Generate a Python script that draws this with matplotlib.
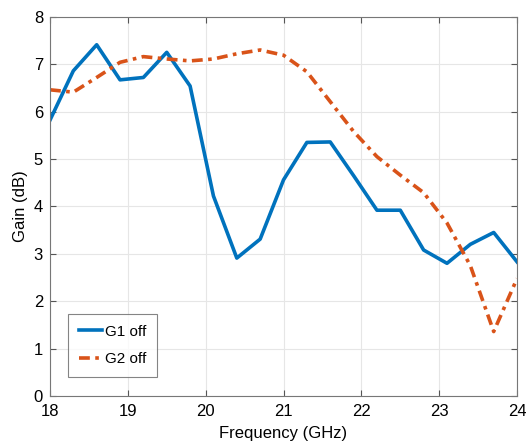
import matplotlib
matplotlib.use("Agg")
import matplotlib.pyplot as plt

plt.rcParams['font.family'] = ['Liberation Sans', 'DejaVu Sans']

freq = [18.0, 18.3, 18.6, 18.9, 19.2, 19.5, 19.8, 20.1, 20.4, 20.7, 21.0,
        21.3, 21.6, 21.9, 22.2, 22.5, 22.8, 23.1, 23.4, 23.7, 24.0]
g1_off = [5.82, 6.86, 7.41, 6.67, 6.72, 7.25, 6.54, 4.22, 2.91, 3.31, 4.56,
          5.35, 5.36, 4.65, 3.92, 3.92, 3.08, 2.80, 3.20, 3.45, 2.83]
g2_off = [6.46, 6.41, 6.72, 7.04, 7.16, 7.11, 7.07, 7.11, 7.22, 7.30, 7.19,
          6.84, 6.21, 5.58, 5.05, 4.66, 4.29, 3.65, 2.75, 1.36, 2.48]
labels = ["G1 off", "G2 off"]
xticks = [18, 19, 20, 21, 22, 23, 24]
yticks = [0, 1, 2, 3, 4, 5, 6, 7, 8]

fig = plt.figure(figsize=(5.26, 4.42), dpi=100)
ax = fig.add_axes([0.095, 0.104, 0.888, 0.858])
ax.plot(freq, g1_off, color='#0072BD', lw=2.6, label=labels[0])
ax.plot(freq, g2_off, color='#D95319', lw=2.6, linestyle=(0, (3, 1.5, 1, 1.5)), label=labels[1])
ax.set_xlim(18, 24)
ax.set_ylim(0, 8)
ax.set_xticks(xticks)
ax.set_yticks(yticks)
ax.grid(True, color='#e6e6e6', lw=0.8)
ax.set_axisbelow(True)
ax.tick_params(direction='in', length=4, labelsize=12, color='#555555',
               top=True, right=True)
ax.tick_params(axis='x', pad=6)
ax.tick_params(axis='y', pad=5)
for s in ax.spines.values():
    s.set_color('#777777')
    s.set_linewidth(0.8)
ax.set_xlabel("Frequency (GHz)", fontsize=12, labelpad=5)
ax.set_ylabel("Gain (dB)", fontsize=12, labelpad=4)
leg = ax.legend(loc='lower left', bbox_to_anchor=(0.0385, 0.05), fontsize=11,
                fancybox=False, edgecolor='#666666', handlelength=1.5,
                borderpad=0.7, labelspacing=0.9, handletextpad=0.2,
                borderaxespad=0.0)
leg.get_frame().set_linewidth(0.8)
fig.savefig("out.png", dpi=100)
